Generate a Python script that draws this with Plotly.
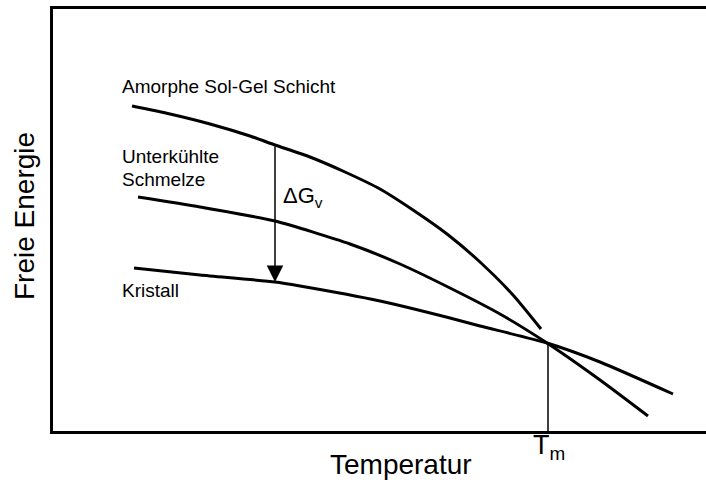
import plotly.graph_objects as go

# free energy curves, temperature on x (arbitrary units), energy on y
amorph_t = [132, 170, 210, 250, 275, 310, 345, 380, 413, 447, 480, 513, 541]
amorph_g = [376, 368, 358, 346, 337, 325, 310, 293, 272, 248, 220, 187, 153]

melt_t = [138, 200, 275, 350, 400, 450, 500, 547, 600, 648]
melt_g = [285, 275, 261, 238, 218, 194, 168, 139, 102, 66]

kristall_t = [134, 200, 275, 300, 380, 450, 480, 547, 600, 673]
kristall_g = [214, 207, 200, 196, 181, 164, 156, 139, 120, 88]

t_melt = 548          # Tm
g_at_tm = 139
t_delta = 275         # where Delta G_v is drawn
g_delta_top = 337
g_delta_bot = 200

x_lo, x_hi = 53, 706
g_lo, g_hi = 51, 473

font = "Liberation Sans, Arial, sans-serif"


def px(x):
    return (x - x_lo) / (x_hi - x_lo)


def py(g):
    return (g - g_lo) / (g_hi - g_lo)


fig = go.Figure()
for t, g in [(amorph_t, amorph_g), (melt_t, melt_g), (kristall_t, kristall_g)]:
    fig.add_trace(go.Scatter(x=t, y=g, mode="lines",
                             line=dict(color="black", width=3, shape="spline", smoothing=0.6),
                             showlegend=False, hoverinfo="skip"))

fig.add_shape(type="line", x0=t_melt, x1=t_melt, y0=g_at_tm, y1=g_lo,
              line=dict(color="black", width=1.5))

fig.add_annotation(x=t_delta, y=g_delta_bot, ax=t_delta, ay=g_delta_top,
                   xref="x", yref="y", axref="x", ayref="y",
                   showarrow=True, arrowhead=2, arrowsize=2.2, arrowwidth=1.5,
                   arrowcolor="black", standoff=0, text="")

labels = [
    ("Amorphe Sol-Gel Schicht", 120, 396, 19),
    ("Unterkühlte", 120, 325, 19),
    ("Schmelze", 120, 303, 19),
    ("Kristall", 120, 192, 19),
    ("ΔG<sub>v</sub>", 281, 285, 22),
    ("T<sub>m</sub>", 531, 35, 27),
]
for txt, x, y, size in labels:
    fig.add_annotation(x=px(x), y=py(y), xref="paper", yref="paper", text=txt,
                       showarrow=False, xanchor="left", yanchor="middle",
                       font=dict(family=font, size=size, color="black"))

fig.add_annotation(x=px(401), y=py(18), xref="paper", yref="paper", text="Temperatur",
                   showarrow=False, xanchor="center", yanchor="middle",
                   font=dict(family=font, size=28, color="black"))
fig.add_annotation(x=px(24), y=py(266), xref="paper", yref="paper", text="Freie Energie",
                   showarrow=False, textangle=-90, xanchor="center", yanchor="middle",
                   font=dict(family=font, size=28, color="black"))

fig.update_xaxes(range=[x_lo, x_hi], showline=True, linecolor="black", linewidth=3,
                 mirror=True, showgrid=False, zeroline=False, showticklabels=False, ticks="")
fig.update_yaxes(range=[g_lo, g_hi], showline=True, linecolor="black", linewidth=3,
                 showgrid=False, zeroline=False, showticklabels=False, ticks="")

fig.update_layout(width=706, height=482, margin=dict(l=53, r=0, t=9, b=51),
                  plot_bgcolor="white", paper_bgcolor="white")

fig.write_html("out.html", config={"displayModeBar": False},
               post_script="document.body.style.margin='0';document.body.style.overflow='hidden';")
